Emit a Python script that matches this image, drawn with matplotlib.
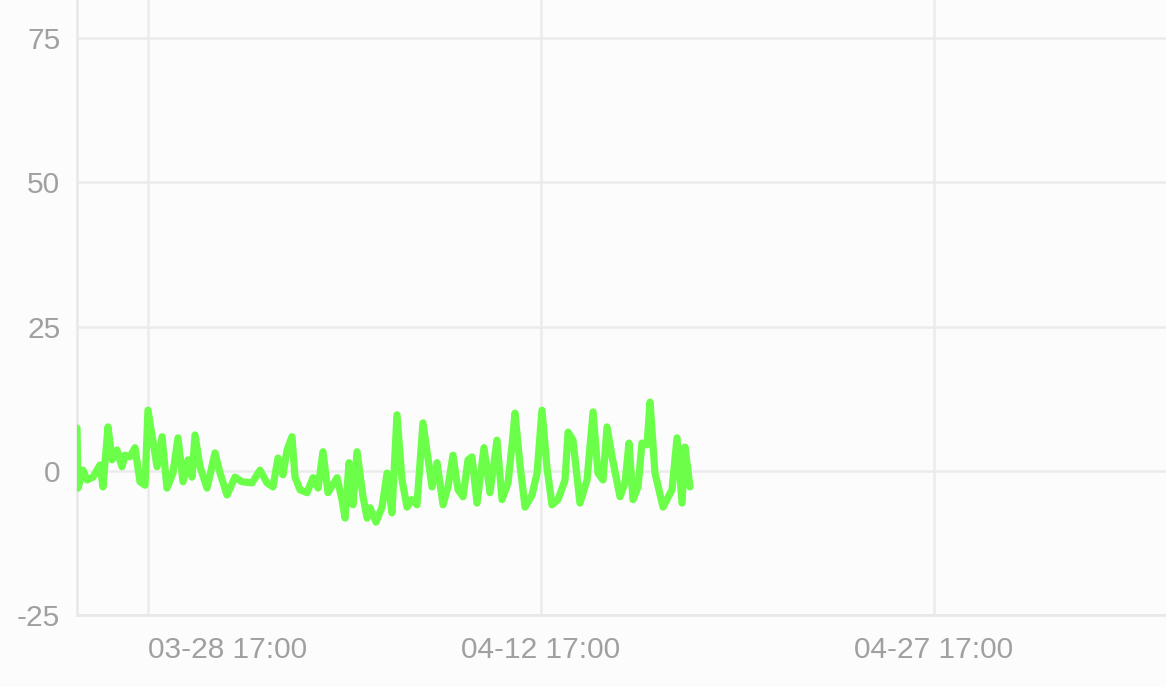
import datetime as dt
import matplotlib
matplotlib.use('Agg')
import matplotlib.pyplot as plt
import matplotlib.dates as mdates

plt.rcParams['axes.unicode_minus'] = False

# hours after 03-26 00:00, and the value read at that time
hours = [0, 0.9, 5.5, 9.2, 14.7, 21.1, 23.8, 28.4, 32.1, 36.6, 41.2, 44.0, 48.5, 53.1,
         57.7, 62.3, 65.0, 73.3, 77.9, 82.4, 87.9, 92.5, 97.1, 101.7, 105.3, 108.1,
         112.7, 119.1, 126.4, 131.0, 137.4, 144.7, 151.1, 160.3, 167.6, 174.0, 179.5,
         184.1, 188.7, 192.4, 196.9, 199.7, 204.3, 210.7, 216.2, 220.8, 225.3, 229.9,
         238.2, 242.7, 245.5, 249.2, 252.8, 256.5, 262.0, 265.7, 268.4, 273.9, 279.4,
         284.0, 288.5, 293.1, 297.7, 302.3, 306.9, 311.4, 316.9, 321.5, 325.2, 329.8,
         335.3, 339.8, 344.4, 349.0, 353.6, 358.2, 361.8, 366.4, 372.8, 378.3, 384.7,
         389.3, 394.8, 398.5, 401.2, 405.8, 410.4, 416.8, 421.4, 425.9, 430.5, 435.1,
         440.6, 447.0, 449.8, 454.3, 460.7, 467.2, 472.7, 477.2, 481.8, 485.5, 490.1,
         497.4, 502.0, 505.6, 509.3, 513.9, 517.5, 522.1, 524.9, 529.4, 536.8, 545.0,
         549.6, 554.2, 556.9, 561.5]
values = [7.4, -3.0, 0.1, -1.6, -1.1, 1.0, -2.8, 7.6, 1.9, 3.6, 0.7, 2.7, 2.4, 4.0,
          -1.9, -2.5, 10.5, 0.7, 5.9, -3.0, -0.4, 5.7, -1.9, 1.9, -1.1, 6.2,
          0.7, -3.0, 3.1, -0.4, -4.2, -1.1, -1.9, -2.1, 0.1, -2.1, -2.8,
          2.2, -0.7, 3.6, 5.9, -1.1, -3.3, -3.8, -1.2, -3.0, 3.3, -3.8,
          -1.2, -5.0, -8.2, 1.4, -5.9, 3.3, -4.5, -8.2, -6.4, -8.9, -6.3,
          -0.4, -7.3, 9.7, -1.6, -6.3, -5.0, -5.9, 8.3, 2.2, -2.8, 1.4,
          -5.9, -2.8, 2.7, -3.3, -4.5, 1.9, 2.4, -5.6, 4.0, -3.8, 5.3,
          -5.0, -2.1, 4.5, 10.0, 1.0, -6.3, -4.2, -0.4, 10.5, 0.5, -5.9,
          -5.0, -1.6, 6.7, 5.3, -5.6, -1.6, 10.2, -0.4, -1.6, 7.6, 2.4,
          -4.5, -2.1, 4.8, -5.0, -2.8, 4.8, 4.5, 11.9, -0.4, -6.3, -3.3,
          5.7, -5.6, 4.1, -2.8]

start = dt.datetime(2024, 3, 26, 0, 0)
end = dt.datetime(2024, 5, 6, 13, 30)
x_ticks = [dt.datetime(2024, 3, 28, 17), dt.datetime(2024, 4, 12, 17), dt.datetime(2024, 4, 27, 17)]
y_ticks = [-25, 0, 25, 50, 75]

times = [start + dt.timedelta(hours=h) for h in hours]

fig = plt.figure(figsize=(11.66, 6.87), dpi=100)
fig.patch.set_facecolor('#fcfcfc')
ax = fig.add_axes([77 / 1166, 72 / 687, 1 - 77 / 1166, 1 - 72 / 687])
ax.set_facecolor('#fcfcfc')

ax.plot(times, values, color='#6cff4a', linewidth=5.2, solid_joinstyle='round',
        solid_capstyle='round', zorder=3)

ax.set_xlim(start, end)
ax.set_ylim(-25, 81.6)
ax.set_xticks(x_ticks)
ax.xaxis.set_major_formatter(mdates.DateFormatter('%m-%d %H:%M'))
ax.set_yticks(y_ticks)

ax.grid(True, color='#ebebeb', linewidth=1.8)
for s in ['top', 'right']:
    ax.spines[s].set_visible(False)
for s in ['left', 'bottom']:
    ax.spines[s].set_color('#e8e8e8')
    ax.spines[s].set_linewidth(1.8)

ax.tick_params(length=0, labelsize=21.5, labelcolor='#a0a0a0')
ax.tick_params(axis='y', pad=12)
ax.tick_params(axis='x', pad=15)
for lab in ax.get_xticklabels() + ax.get_yticklabels():
    lab.set_family('Liberation Sans')
ax.get_xticklabels()[0].set_horizontalalignment('left')

fig.savefig('out.png', dpi=100, facecolor=fig.get_facecolor())
